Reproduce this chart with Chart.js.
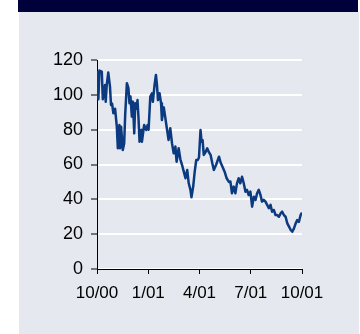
<!DOCTYPE html>
<html>
<head>
<meta charset="utf-8">
<script src="https://cdn.jsdelivr.net/npm/chart.js@4/dist/chart.umd.min.js"></script>
<style>
    html, body { margin: 0; padding: 0; background: #ffffff; }
    body { width: 360px; height: 334px; position: relative; overflow: hidden; }
    #band { position: absolute; left: 18px; top: 0; width: 340px; height: 12px; background: #00003a; }
    #panel { position: absolute; left: 19px; top: 12px; width: 340px; height: 322px; background: #e5e8ee; }
    #wrap { position: absolute; left: 0; top: 0; width: 360px; height: 334px; }
</style>
</head>
<body>
<div id="band"></div>
<div id="panel"></div>
<div id="wrap"><canvas id="priceChart"></canvas></div>
<script>
// x positions in months since Oct 2000
const monthPos = [
    0.02, 0.08, 0.14, 0.28, 0.34, 0.47, 0.51, 0.57, 0.66, 0.76, 0.82, 0.88, 0.96,
    1.06, 1.16, 1.22, 1.31, 1.35, 1.41, 1.51, 1.59, 1.65, 1.75, 1.84, 1.90, 1.96,
    2.04, 2.10, 2.18, 2.24, 2.32, 2.37, 2.43, 2.49, 2.59, 2.63, 2.76, 2.88, 2.96,
    3.02, 3.12, 3.22, 3.27, 3.37, 3.45, 3.51, 3.57, 3.66, 3.75, 3.80, 3.91,
    4.06, 4.19, 4.29, 4.39, 4.49, 4.59, 4.66, 4.78, 4.88, 4.98,
    5.08, 5.18, 5.28, 5.37, 5.47, 5.53, 5.63, 5.72, 5.81, 5.90, 5.97,
    6.06, 6.12, 6.18, 6.25, 6.35, 6.45, 6.55, 6.65, 6.75, 6.84, 6.98,
    7.14, 7.24, 7.34, 7.47, 7.59, 7.72, 7.81, 7.90,
    8.00, 8.10, 8.19, 8.29, 8.39, 8.49, 8.59, 8.69, 8.78, 8.88, 8.98,
    9.08, 9.18, 9.28, 9.37, 9.47, 9.57, 9.66, 9.76, 9.86, 9.96,
    10.06, 10.16, 10.25, 10.35, 10.45, 10.55, 10.65, 10.75, 10.84, 10.94,
    11.04, 11.14, 11.24, 11.34, 11.43, 11.53, 11.63, 11.72, 11.82, 11.92, 12.0
];

const price = [
    113.9, 97.5, 113.9, 113.3, 97.5, 105.7, 96.1, 105.7, 112.8, 104.7, 94.2, 95.0, 89.4,
    92.0, 81.7, 69.3, 82.7, 69.3, 81.7, 68.3, 72.0, 88.5, 106.7, 103.8, 95.2, 99.0,
    87.5, 96.1, 77.9, 95.2, 92.0, 97.0, 86.6, 73.1, 79.8, 73.1, 82.7, 79.8, 82.7,
    80.0, 99.0, 100.9, 96.0, 105.7, 111.4, 105.7, 97.0, 100.9, 95.2, 85.6, 92.8,
    82.7, 74.1, 80.8, 72.2, 66.4, 70.3, 61.6, 69.3, 63.0, 59.7,
    55.9, 52.1, 56.9, 49.2, 45.4, 41.2, 47.3, 55.9, 62.6, 62.6, 64.0,
    79.8, 73.1, 74.0, 65.5, 67.0, 69.3, 67.0, 65.5, 60.7, 56.9, 60.0,
    64.5, 61.0, 58.8, 55.9, 52.1, 50.0, 50.2, 43.5,
    47.3, 43.5, 49.0, 52.1, 49.2, 53.0, 49.2, 44.4, 45.4, 42.5, 44.4,
    35.8, 41.5, 39.7, 43.5, 45.4, 42.5, 38.7, 39.7, 38.7, 36.8,
    34.9, 36.8, 32.9, 33.9, 31.0, 31.0, 30.0, 31.9, 32.9, 31.0,
    30.0, 26.2, 24.3, 22.4, 21.4, 23.3, 26.2, 28.1, 27.1, 31.0, 32.3
];

const tickLabels = ['10/00', '1/01', '4/01', '7/01', '10/01'];
const yTicks = [0, 20, 40, 60, 80, 100, 120];

const ctx = document.getElementById('priceChart').getContext('2d');
const points = monthPos.map((m, i) => ({ x: m, y: price[i] }));

new Chart(ctx, {
    type: 'line',
    data: {
        datasets: [{
            data: points,
            borderColor: '#0b3a80',
            borderWidth: 2.5,
            pointRadius: 0,
            tension: 0,
            borderJoinStyle: 'round',
            fill: false
        }]
    },
    options: {
        responsive: true,
        maintainAspectRatio: false,
        animation: false,
        layout: { padding: { left: 0, top: 60, right: 58, bottom: 25 } },
        plugins: {
            legend: { display: false },
            tooltip: { enabled: false }
        },
        scales: {
            x: {
                type: 'linear',
                min: 0,
                max: 12,
                afterFit: (scale) => { scale.height = 40; },
                afterBuildTicks: (scale) => {
                    scale.ticks = [0, 3, 6, 9, 12].map(v => ({ value: v }));
                },
                grid: {
                    drawOnChartArea: false,
                    drawTicks: true,
                    tickLength: 5,
                    tickColor: '#000000',
                    tickWidth: 1
                },
                border: { color: '#000000', width: 1 },
                ticks: {
                    color: '#000000',
                    padding: 9,
                    maxRotation: 0,
                    font: { family: 'Liberation Sans, Arial', size: 17 },
                    callback: (value) => tickLabels[value / 3]
                }
            },
            y: {
                min: 0,
                max: 120,
                afterFit: (scale) => { scale.width = 97; },
                afterBuildTicks: (scale) => {
                    scale.ticks = yTicks.map(v => ({ value: v }));
                },
                grid: {
                    color: '#ffffff',
                    lineWidth: 2,
                    drawTicks: true,
                    tickLength: 6,
                    tickColor: '#000000',
                    tickWidth: 1
                },
                border: { color: '#000000', width: 1 },
                ticks: {
                    color: '#000000',
                    padding: 8,
                    font: { family: 'Liberation Sans, Arial', size: 18 }
                }
            }
        }
    }
});
</script>
</body>
</html>
